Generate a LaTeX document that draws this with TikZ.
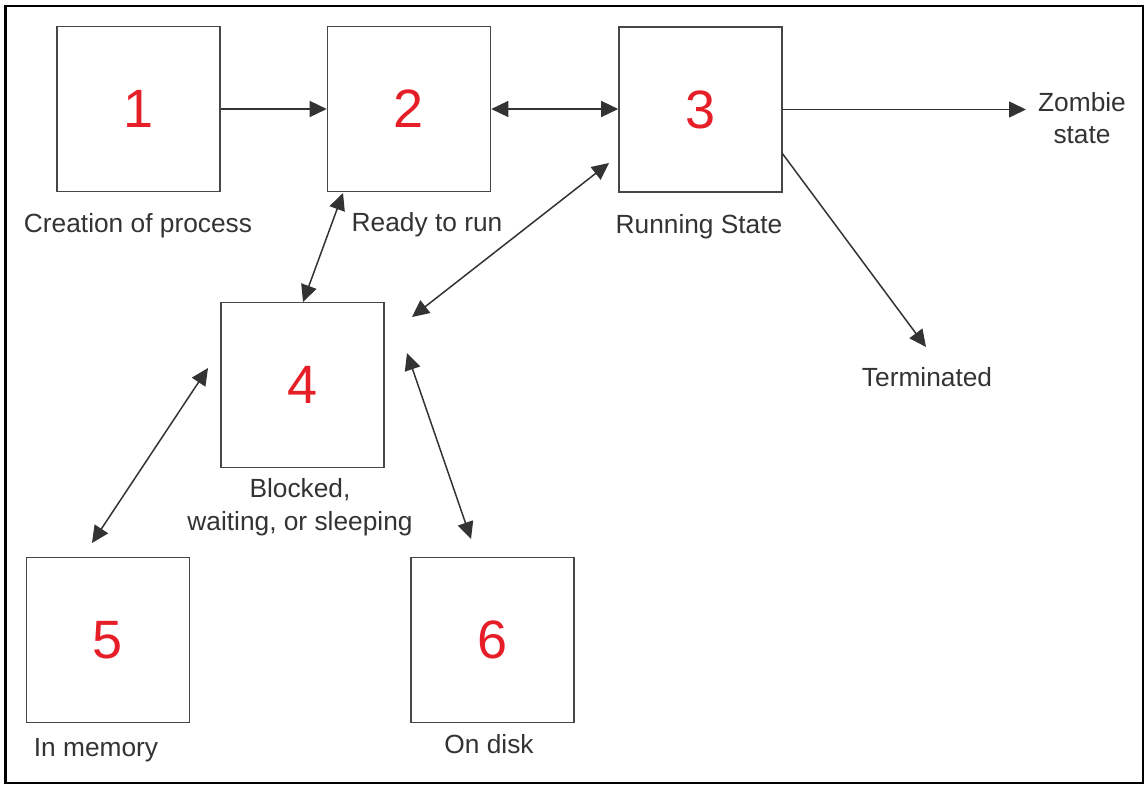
\documentclass[tikz,border=0pt]{standalone}
\usepackage{fontspec}
\setmainfont{Liberation Sans}
\usetikzlibrary{arrows.meta}
\definecolor{ink}{HTML}{333333}
\definecolor{numred}{HTML}{E61E28}
\begin{document}
\begin{tikzpicture}[x=1pt,y=-1pt,
  statebox/.style={draw=ink!90, line width=1.6pt, minimum width=163pt, minimum height=165pt,
    inner sep=0pt, text=numred, font=\fontsize{54}{54}\selectfont},
  caption/.style={text=ink, font=\fontsize{26.3}{33}\selectfont, inner sep=0pt, align=center},
  link/.style={draw=ink, line width=1.5pt, -{Triangle[length=17pt,width=16pt]}},
  biglink/.style={draw=ink, line width=1.5pt, {Triangle[length=17pt,width=16pt]}-{Triangle[length=17pt,width=16pt]}}
]
\useasboundingbox (0,0) rectangle (1147,785);
% outer frame
\draw[black, line width=2.4pt] (5.5,6) rectangle (1143,783);

% state boxes
\node[statebox] (b1) at (138.5,109) {1};
\node[statebox] (b2) at (409,109) {2};
\node[statebox] (b3) at (700.5,109.5) {3};
\node[statebox] (b4) at (302.5,385) {4};
\node[statebox] (b5) at (108,640) {5};
\node[statebox] (b6) at (492.5,640) {6};

% captions
\node[caption, anchor=base] (l1) at (138,232) {Creation of process};
\node[caption, anchor=base] (l2) at (427,231) {Ready to run};
\node[caption, anchor=base] (l3) at (699,233) {Running State};
\node[caption, anchor=base] (l4a) at (300,497) {Blocked,};
\node[caption, anchor=base] (l4b) at (300,530) {waiting, or sleeping};
\node[caption, anchor=base] (l5) at (96,756) {In memory};
\node[caption, anchor=base] (l6) at (489,753) {On disk};
\node[caption, anchor=base] (lz1) at (1082,111) {Zombie};
\node[caption, anchor=base] (lz2) at (1082,143) {state};
\node[caption, anchor=base] (lt) at (927,386) {Terminated};

% free connector ends
\coordinate (z) at (1026,110);
\coordinate (t0) at (782,153);
\coordinate (t1) at (926,347);
\coordinate (a24) at (343,193);
\coordinate (b24) at (303,302);
\coordinate (a34) at (609,163);
\coordinate (b34) at (412,317);
\coordinate (a46) at (407,353);
\coordinate (b46) at (471,539);
\coordinate (a45) at (208,368);
\coordinate (b45) at (92,543);

% transitions
\draw[link] (b1.east) -- (b1.east -| b2.west);
\draw[biglink] (b2.east) -- (b2.east -| b3.west);
\draw[link] (b3.east) -- (b3.east -| z);
\draw[link] (t0) -- (t1);
\draw[biglink] (a24) -- (b24);
\draw[biglink] (a34) -- (b34);
\draw[biglink] (a46) -- (b46);
\draw[biglink] (a45) -- (b45);
\end{tikzpicture}
\end{document}
